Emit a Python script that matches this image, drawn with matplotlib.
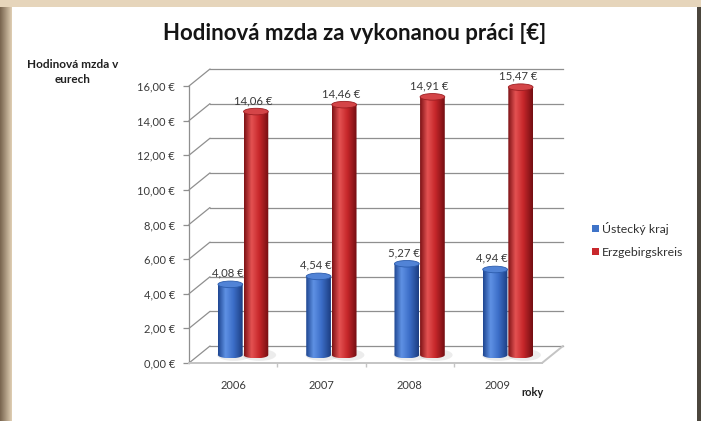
import numpy as np
import matplotlib
matplotlib.use("Agg")
import matplotlib.pyplot as plt
from matplotlib.transforms import ScaledTranslation
from matplotlib.patches import Ellipse, PathPatch, Rectangle, Patch, ConnectionPatch
from matplotlib.path import Path

# ---------------- data ----------------
years = ["2006", "2007", "2008", "2009"]
series_names = ["Ústecký kraj", "Erzgebirgskreis"]
ustecky = [4.08, 4.54, 5.27, 4.94]
erzgebirge = [14.06, 14.46, 14.91, 15.47]
yticks = [0, 2, 4, 6, 8, 10, 12, 14, 16]
title = "Hodinová mzda za vykonanou práci [€]"
ylabel = "Hodinová mzda v\neurech"
xlabel = "roky"


def eur(v):
    return f"{v:.2f}".replace(".", ",") + " €"


plt.rcParams['font.family'] = ['Lato', 'DejaVu Sans']

W, H = 701, 421
fig = plt.figure(figsize=(W / 100, H / 100), dpi=100)
fig.patch.set_facecolor('#e6d5bb')

# ---------------- frame / background ----------------
bg = fig.add_axes([0, 0, 1, 1], zorder=-10)
bg.axis('off')
g = np.linspace(0, 1, 32)
c0 = np.array([120, 100, 78]) / 255
c1 = np.array([224, 207, 180]) / 255
strip = c0[None, None, :] * (1 - g[None, :, None]) + c1[None, None, :] * g[None, :, None]
bg.imshow(strip, extent=(0, 12, H, 7), aspect='auto', interpolation='bilinear')
bg.add_patch(Rectangle((12, 7), 685, H - 7, facecolor='white', edgecolor='none'))
bg.add_patch(Rectangle((697, 7), 4, H - 7, facecolor='#4b463d', edgecolor='none'))
bg.set_xlim(0, W)
bg.set_ylim(H, 0)

# ---------------- main (front plane) axes ----------------
ax = fig.add_axes([189 / W, (H - 363) / H, 353 / W, 277 / H])
ax.patch.set_alpha(0)


def shift(dx, dy):
    return ax.transData + ScaledTranslation(dx / 100, dy / 100, fig.dpi_scale_trans)


back = shift(21, 17)
mid = shift(10, 8)

grid_c = '#8f8f8f'
x_lo, x_hi = -0.5, len(years) - 0.5
for v in yticks:
    ax.plot([x_lo, x_hi], [v, v], transform=back, color=grid_c, lw=0.9,
            clip_on=False, zorder=1)
    ax.add_artist(ConnectionPatch((x_lo, v), (x_lo, v), coordsA=ax.transData,
                                  coordsB=back, color=grid_c, lw=0.9,
                                  clip_on=False, zorder=1))
# floor right edge
ax.add_artist(ConnectionPatch((x_hi, 0), (x_hi, 0), coordsA=ax.transData,
                              coordsB=back, color='#c4c4c4', lw=1.4,
                              clip_on=False, zorder=1))

for s in ['top', 'right']:
    ax.spines[s].set_visible(False)
ax.spines['left'].set_color(grid_c)
ax.spines['left'].set_linewidth(0.9)
ax.spines['bottom'].set_color('#c4c4c4')
ax.spines['bottom'].set_linewidth(1.4)

ax.set_yticks(yticks, [eur(v) for v in yticks])
ax.tick_params(axis='y', labelsize=8, labelcolor='#3a3a3a', color=grid_c,
               length=4, width=0.9, pad=6)
ax.set_xticks(range(len(years)), years)
ax.set_xticks([i + 0.5 for i in range(len(years) - 1)], minor=True)
ax.tick_params(axis='x', which='major', length=0, labelsize=8,
               labelcolor='#3a3a3a', pad=12)
ax.tick_params(axis='x', which='minor', length=3, color='#c4c4c4', width=1)

# ---------------- cylinders ----------------
bw = 0.28
offsets = [-0.145, 0.145]
h_cap = 0.38
styles = [
    dict(stops=[(30, 70, 145), (95, 145, 228), (60, 110, 200), (28, 62, 130)],
         cap='#5183d6', capedge='#2c5cac'),
    dict(stops=[(125, 18, 22), (228, 82, 82), (198, 38, 42), (115, 14, 18)],
         cap='#d44548', capedge='#9c1e22'),
]
pos = [0.0, 0.3, 0.62, 1.0]


def gradient(stops):
    t = np.linspace(0, 1, 64)
    cols = np.array(stops, dtype=float) / 255
    out = np.stack([np.interp(t, pos, cols[:, k]) for k in range(3)], axis=-1)
    return out[None, :, :]


for si, vals in enumerate([ustecky, erzgebirge]):
    st = styles[si]
    img = gradient(st['stops'])
    z = 3 + si * 2
    for i, v in enumerate(vals):
        xc = i + offsets[si]
        x0, x1 = xc - bw / 2, xc + bw / 2
        # soft shadow on floor
        ax.add_patch(Ellipse((xc + 0.04, 0), bw * 1.35, h_cap * 1.8, transform=mid,
                             facecolor='#9a9a9a', alpha=0.18, edgecolor='none',
                             zorder=2, clip_on=False))
        t = np.linspace(np.pi, 2 * np.pi, 40)
        verts = [(x0, v)] + list(zip(xc + bw / 2 * np.cos(t), h_cap / 2 * np.sin(t))) \
            + [(x1, v), (x0, v)]
        codes = [Path.MOVETO] + [Path.LINETO] * (len(verts) - 2) + [Path.CLOSEPOLY]
        body = PathPatch(Path(verts, codes), transform=mid, facecolor='none',
                         edgecolor='none', zorder=z, clip_on=False)
        ax.add_patch(body)
        im = ax.imshow(img, extent=(x0, x1, -h_cap / 2, v), transform=mid,
                       aspect='auto', interpolation='bilinear', zorder=z)
        im.set_clip_path(body)
        ax.add_patch(Ellipse((xc, v), bw, h_cap, transform=mid, facecolor=st['cap'],
                             edgecolor=st['capedge'], lw=0.6, zorder=z + 0.5,
                             clip_on=False))
        ax.annotate(eur(v), (xc, v), xycoords=mid, xytext=(-2, 8),
                    textcoords='offset points', ha='center', va='center',
                    fontsize=8.2, color='#3a3a3a', zorder=z + 0.7,
                    annotation_clip=False)

ax.set_xlim(x_lo, x_hi)
ax.set_ylim(0, 16)

# ---------------- texts & legend ----------------
fig.text(355 / W, 1 - 33 / H, title, ha='center', va='center', fontsize=16,
         fontweight='bold', color='#151515')
fig.text(73 / W, 1 - 72 / H, ylabel, ha='center', va='center', fontsize=8.5,
         fontweight='bold', color='#202020', linespacing=1.35)
fig.text(533 / W, 1 - 393 / H, xlabel, ha='center', va='center', fontsize=8,
         fontweight='bold', color='#202020')

handles = [Patch(facecolor='#3f73c8', edgecolor='none'),
           Patch(facecolor='#c8282c', edgecolor='none')]
fig.legend(handles, series_names, loc='center left',
           bbox_to_anchor=(587 / W, 1 - 240 / H), frameon=False, fontsize=8.8,
           handlelength=0.55, handleheight=0.55, handletextpad=0.3,
           labelspacing=1.0, borderaxespad=0, labelcolor='#303030')

fig.savefig("out.png", dpi=100, facecolor=fig.get_facecolor())
